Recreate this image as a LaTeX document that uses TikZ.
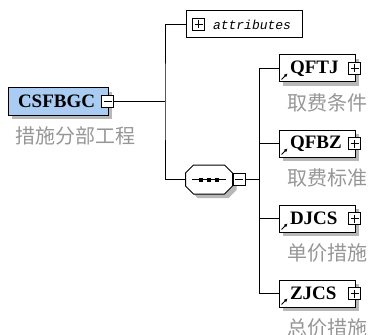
\documentclass[tikz,border=0pt]{standalone}
\usepackage{fontspec}
\setmainfont{Liberation Serif}
\newfontfamily\cjkfont{Noto Sans CJK SC}
\newfontfamily\attrfont{Liberation Mono}
\usetikzlibrary{arrows.meta,positioning,shadows}
\definecolor{rootblue}{RGB}{170,204,242}
\definecolor{labelgray}{RGB}{150,150,150}
\newcommand\octpath[1]{([xshift=8pt]#1.north west) -- ([xshift=-8pt]#1.north east)
  -- ([yshift=-8pt]#1.north east) -- ([yshift=8pt]#1.south east)
  -- ([xshift=-8pt]#1.south east) -- ([xshift=8pt]#1.south west)
  -- ([yshift=8pt]#1.south west) -- ([yshift=-8pt]#1.north west) -- cycle}

\begin{document}
\begin{tikzpicture}[
  x=1pt, y=-1pt, line width=1pt,
  shadowed/.style={drop shadow={shadow xshift=4pt, shadow yshift=-4pt,
                   fill=black!28, opacity=1}},
  elem/.style={draw, fill=white, shadowed, minimum height=27pt, inner ysep=0pt,
               text width=54pt, inner xsep=11pt, align=left,
               font=\fontsize{19}{19}\selectfont\bfseries},
  rootbox/.style={elem, fill=rootblue, text width=80pt, inner xsep=10pt},
  attrbox/.style={draw, fill=white, minimum height=27pt, inner ysep=0pt,
                  text width=98pt, inner xsep=9pt, align=left,
                  font=\attrfont\itshape\fontsize{13}{13}\selectfont},
  seqbox/.style={minimum width=46pt, minimum height=28pt, inner sep=0pt},
  btn/.style={draw, fill=white, minimum size=12pt, inner sep=0pt, line width=0.7pt},
  minus/.style={btn, path picture={
      \draw ([xshift=2pt]path picture bounding box.west)
         -- ([xshift=-2pt]path picture bounding box.east);}},
  plus/.style={btn, path picture={
      \draw ([xshift=2pt]path picture bounding box.west)
         -- ([xshift=-2pt]path picture bounding box.east);
      \draw ([yshift=-2pt]path picture bounding box.north)
         -- ([yshift=2pt]path picture bounding box.south);}},
  desc/.style={inner sep=0pt, text=labelgray, font=\cjkfont\fontsize{20}{20}\selectfont},
  refarrow/.style={-{Latex[length=3.5pt,width=3.5pt]}, line width=1pt}
]
\useasboundingbox (0,0) rectangle (374,334);

\node[rootbox] (root) at (58,101.5) {CSFBGC};
\node[minus] (rootbtn) at ([xshift=-1pt]root.east) {};
\node[desc, below right=11pt and 7pt of root.south west] (rootdesc) {措施分部工程};

\node[attrbox] (attr) at (244,24.5) {\mbox{\hspace*{18pt}attributes}};
\node[plus] (attrbtn) at ([xshift=13pt]attr.west) {};

\node[seqbox] (seq) at (209,179.5) {};
\node[seqbox] (seqsh) at ([shift={(4pt,-4pt)}]seq.center) {};
\fill[black!28] \octpath{seqsh};
\filldraw[fill=white] \octpath{seq};
\node[minus, right=0pt of seq] (seqbtn) {};
\draw ([xshift=-17pt]seq.center) -- ([xshift=17pt]seq.center);
\foreach \d in {-8,0,8}
  \fill ([xshift=\d pt]seq.center) +(-2,-2) rectangle +(2,2);

\node[elem] (qftj) at (317,68.5) {QFTJ};
\node[elem, below=47pt of qftj] (qfbz) {QFBZ};
\node[elem, below=47pt of qfbz] (djcs) {DJCS};
\node[elem, below=47pt of djcs] (zjcs) {ZJCS};

\node[plus] (qftjbtn) at ([xshift=-1pt]qftj.east) {};
\node[plus] (qfbzbtn) at ([xshift=-1pt]qfbz.east) {};
\node[plus] (djcsbtn) at ([xshift=-1pt]djcs.east) {};
\node[plus] (zjcsbtn) at ([xshift=-1pt]zjcs.east) {};

\draw[refarrow] ([shift={(3pt,3pt)}]qftj.south west) -- ++(6pt,6pt);
\draw[refarrow] ([shift={(3pt,3pt)}]qfbz.south west) -- ++(6pt,6pt);
\draw[refarrow] ([shift={(3pt,3pt)}]djcs.south west) -- ++(6pt,6pt);
\draw[refarrow] ([shift={(3pt,3pt)}]zjcs.south west) -- ++(6pt,6pt);

\node[desc, below right=10.5pt and 8pt of qftj.south west] (qftjdesc) {取费条件};
\node[desc, below right=10.5pt and 8pt of qfbz.south west] (qfbzdesc) {取费标准};
\node[desc, below right=10.5pt and 8pt of djcs.south west] (djcsdesc) {单价措施};
\node[desc, below right=10.5pt and 8pt of zjcs.south west] (zjcsdesc) {总价措施};

\coordinate (rj) at (165,101.5);
\coordinate (sj) at (259,179.5);
\draw (rootbtn.east) -- (rj);
\draw (attr.west) -| (rj) |- (seq.west);
\draw (seqbtn.east) -- (sj);
\draw (sj) |- (qftj.west);
\draw (sj) |- (qfbz.west);
\draw (sj) |- (djcs.west);
\draw (sj) |- (zjcs.west);
\end{tikzpicture}
\end{document}
